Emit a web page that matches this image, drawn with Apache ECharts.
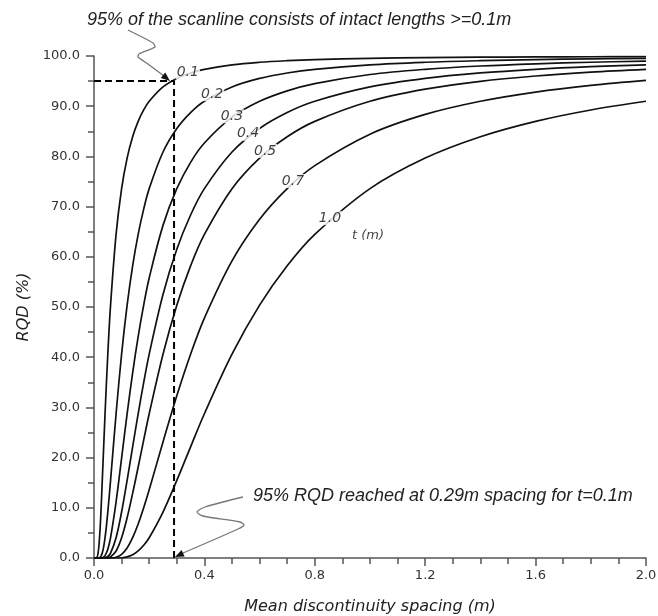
<!DOCTYPE html>
<html>
<head>
<meta charset="utf-8">
<script src="https://cdn.jsdelivr.net/npm/echarts@6/dist/echarts.min.js"></script>
<style>
  html, body { margin: 0; padding: 0; background: #fff; }
  #chart { width: 658px; height: 616px; }
</style>
</head>
<body>
<div id="chart"></div>
<script>
// mean discontinuity spacing (m)
var spacing = [0, 0.01, 0.02, 0.03, 0.04, 0.05, 0.06, 0.08, 0.10, 0.12, 0.14, 0.16, 0.18, 0.20,
  0.25, 0.30, 0.35, 0.40, 0.50, 0.60, 0.70, 0.80, 1.00, 1.20, 1.40, 1.60, 1.80, 2.00];

// RQD (%), t = threshold length (m)
var rqd01 = [0, 0.05, 4.04, 15.46, 28.73, 40.60, 50.37, 64.46, 73.58, 79.67, 83.92, 86.98, 89.25, 90.98,
  93.84, 95.54, 96.62, 97.35, 98.25, 98.76, 99.07, 99.28, 99.53, 99.67, 99.76, 99.81, 99.85, 99.88];
var rqd02 = [0, 0, 0.05, 0.98, 4.04, 9.16, 15.46, 28.73, 40.60, 50.37, 58.20, 64.46, 69.49, 73.58,
  80.88, 85.57, 88.74, 90.98, 93.84, 95.54, 96.62, 97.35, 98.25, 98.76, 99.07, 99.28, 99.43, 99.53];
var rqd03 = [0, 0, 0, 0.05, 0.47, 1.74, 4.04, 11.17, 19.91, 28.73, 36.86, 44.09, 50.37, 55.78,
  66.26, 73.58, 78.82, 82.66, 87.81, 90.98, 93.06, 94.50, 96.31, 97.35, 98.01, 98.45, 98.76, 98.98];
var rqd04 = [0, 0, 0, 0, 0.05, 0.30, 0.98, 4.04, 9.16, 15.46, 22.15, 28.73, 34.92, 40.60,
  52.49, 61.51, 68.33, 73.58, 80.88, 85.57, 88.74, 90.98, 93.84, 95.54, 96.62, 97.35, 97.87, 98.25];
var rqd05 = [0, 0, 0, 0, 0, 0.05, 0.22, 1.40, 4.04, 8.01, 12.86, 18.12, 23.49, 28.73,
  40.60, 50.37, 58.20, 64.46, 73.58, 79.67, 83.92, 86.98, 90.98, 93.39, 94.96, 96.02, 96.79, 97.35];
var rqd07 = [0, 0, 0, 0, 0, 0, 0.01, 0.15, 0.73, 2.00, 4.04, 6.76, 10.00, 13.59,
  23.11, 32.32, 40.60, 47.79, 59.18, 67.47, 73.58, 78.16, 84.42, 88.36, 90.98, 92.81, 94.14, 95.13];
var rqd10 = [0, 0, 0, 0, 0, 0, 0, 0, 0.05, 0.22, 0.64, 1.40, 2.53, 4.04,
  9.16, 15.46, 22.15, 28.73, 40.60, 50.37, 58.20, 64.46, 73.58, 79.67, 83.92, 86.98, 89.25, 90.98];

var curveNames = ['0.1', '0.2', '0.3', '0.4', '0.5', '0.7', '1.0'];
var curveValues = [rqd01, rqd02, rqd03, rqd04, rqd05, rqd07, rqd10];

// where each t label sits on its curve [spacing, rqd]
var labelPos = [[0.34, 96.7], [0.428, 92.4], [0.50, 88.0], [0.558, 84.5], [0.62, 81.1], [0.721, 75.1], [0.855, 67.7]];

// 95% RQD for t=0.1m reached at 0.29m
var markSpacing = 0.29;
var markRqd = 95;

var chart = echarts.init(document.getElementById('chart'));

var series = [];
curveNames.forEach(function(name, k) {
  series.push({
    name: name,
    type: 'line',
    data: spacing.map(function(s, i) { return [s, curveValues[k][i]]; }),
    smooth: 0.35,
    showSymbol: false,
    silent: true,
    z: 2,
    lineStyle: { color: '#111', width: 1.7 }
  });
});

series.push({
  type: 'line',
  data: [[0, markRqd], [markSpacing, markRqd], [markSpacing, 0]],
  showSymbol: false,
  silent: true,
  z: 3,
  lineStyle: { color: '#000', width: 2, type: [7, 4] }
});

series.push({
  type: 'scatter',
  symbolSize: 0,
  silent: true,
  z: 5,
  data: labelPos.map(function(p, k) { return [p[0], p[1], curveNames[k]]; }),
  label: {
    show: true,
    position: 'inside',
    formatter: function(p) { return p.value[2]; },
    fontFamily: 'DejaVu Sans',
    fontStyle: 'italic',
    fontSize: 14,
    color: '#111',
    backgroundColor: '#fff',
    padding: [0, 1]
  }
});

series.push({
  type: 'scatter',
  symbolSize: 0,
  silent: true,
  data: [[0.993, 64.3]],
  label: {
    show: true,
    position: 'inside',
    formatter: 't (m)',
    fontFamily: 'DejaVu Sans',
    fontStyle: 'italic',
    fontSize: 13,
    color: '#111'
  }
});

var axisText = { fontFamily: 'DejaVu Sans', fontSize: 13, color: '#333' };

chart.setOption({
  animation: false,
  backgroundColor: '#fff',
  grid: { left: 94, right: 12, top: 56, bottom: 58, containLabel: false, outerBoundsMode: 'none' },
  xAxis: {
    type: 'value',
    min: 0,
    max: 2,
    interval: 0.4,
    name: 'Mean discontinuity spacing (m)',
    nameLocation: 'middle',
    nameGap: 41,
    nameTextStyle: { fontFamily: 'DejaVu Sans', fontStyle: 'italic', fontSize: 16, color: '#222' },
    axisLine: { lineStyle: { color: '#555', width: 1.5 } },
    axisTick: { length: 8, lineStyle: { color: '#555', width: 1.5 } },
    minorTick: { show: true, splitNumber: 4, length: 6, lineStyle: { color: '#555', width: 1.5 } },
    axisLabel: Object.assign({ margin: 11, formatter: function(v) { return v.toFixed(1); } }, axisText),
    splitLine: { show: false }
  },
  yAxis: {
    type: 'value',
    min: 0,
    max: 100,
    interval: 10,
    name: 'RQD (%)',
    nameLocation: 'middle',
    nameGap: 62,
    nameTextStyle: { fontFamily: 'DejaVu Sans', fontStyle: 'italic', fontSize: 16, color: '#222' },
    axisLine: { lineStyle: { color: '#555', width: 1.5 } },
    axisTick: { length: 8, lineStyle: { color: '#555', width: 1.5 } },
    minorTick: { show: true, splitNumber: 2, length: 6, lineStyle: { color: '#555', width: 1.5 } },
    axisLabel: Object.assign({ margin: 14, formatter: function(v) { return v.toFixed(1); } }, axisText),
    splitLine: { show: false }
  },
  graphic: [
    {
      type: 'text', left: 87, top: 11,
      style: { text: '95% of the scanline consists of intact lengths >=0.1m', fontFamily: 'Liberation Sans',
        fontStyle: 'italic', fontSize: 18, fill: '#222' }
    },
    {
      type: 'text', left: 253, top: 487,
      style: { text: '95% RQD reached at 0.29m spacing for t=0.1m', fontFamily: 'Liberation Sans',
        fontStyle: 'italic', fontSize: 18, fill: '#222' }
    },
    {
      type: 'polyline', silent: true,
      shape: { points: [[128, 30], [153, 43], [155, 47], [139, 54], [138, 57], [148, 64], [164, 76]], smooth: 0.2 },
      style: { stroke: '#777', lineWidth: 1.3, fill: null }
    },
    {
      type: 'polygon', silent: true, z: 10,
      shape: { points: [[170, 81], [160.8, 78.0], [165.2, 72.6]] },
      style: { fill: '#111' }
    },
    {
      type: 'polyline', silent: true,
      shape: { points: [[243, 497], [205, 507], [197, 512], [203, 516], [240, 522], [244, 525], [238, 529], [183, 553]], smooth: 0.3 },
      style: { stroke: '#777', lineWidth: 1.3, fill: null }
    },
    {
      type: 'polygon', silent: true, z: 10,
      shape: { points: [[175, 557], [181.6, 550.0], [184.6, 556.4]] },
      style: { fill: '#111' }
    }
  ],
  series: series
});
</script>
</body>
</html>
